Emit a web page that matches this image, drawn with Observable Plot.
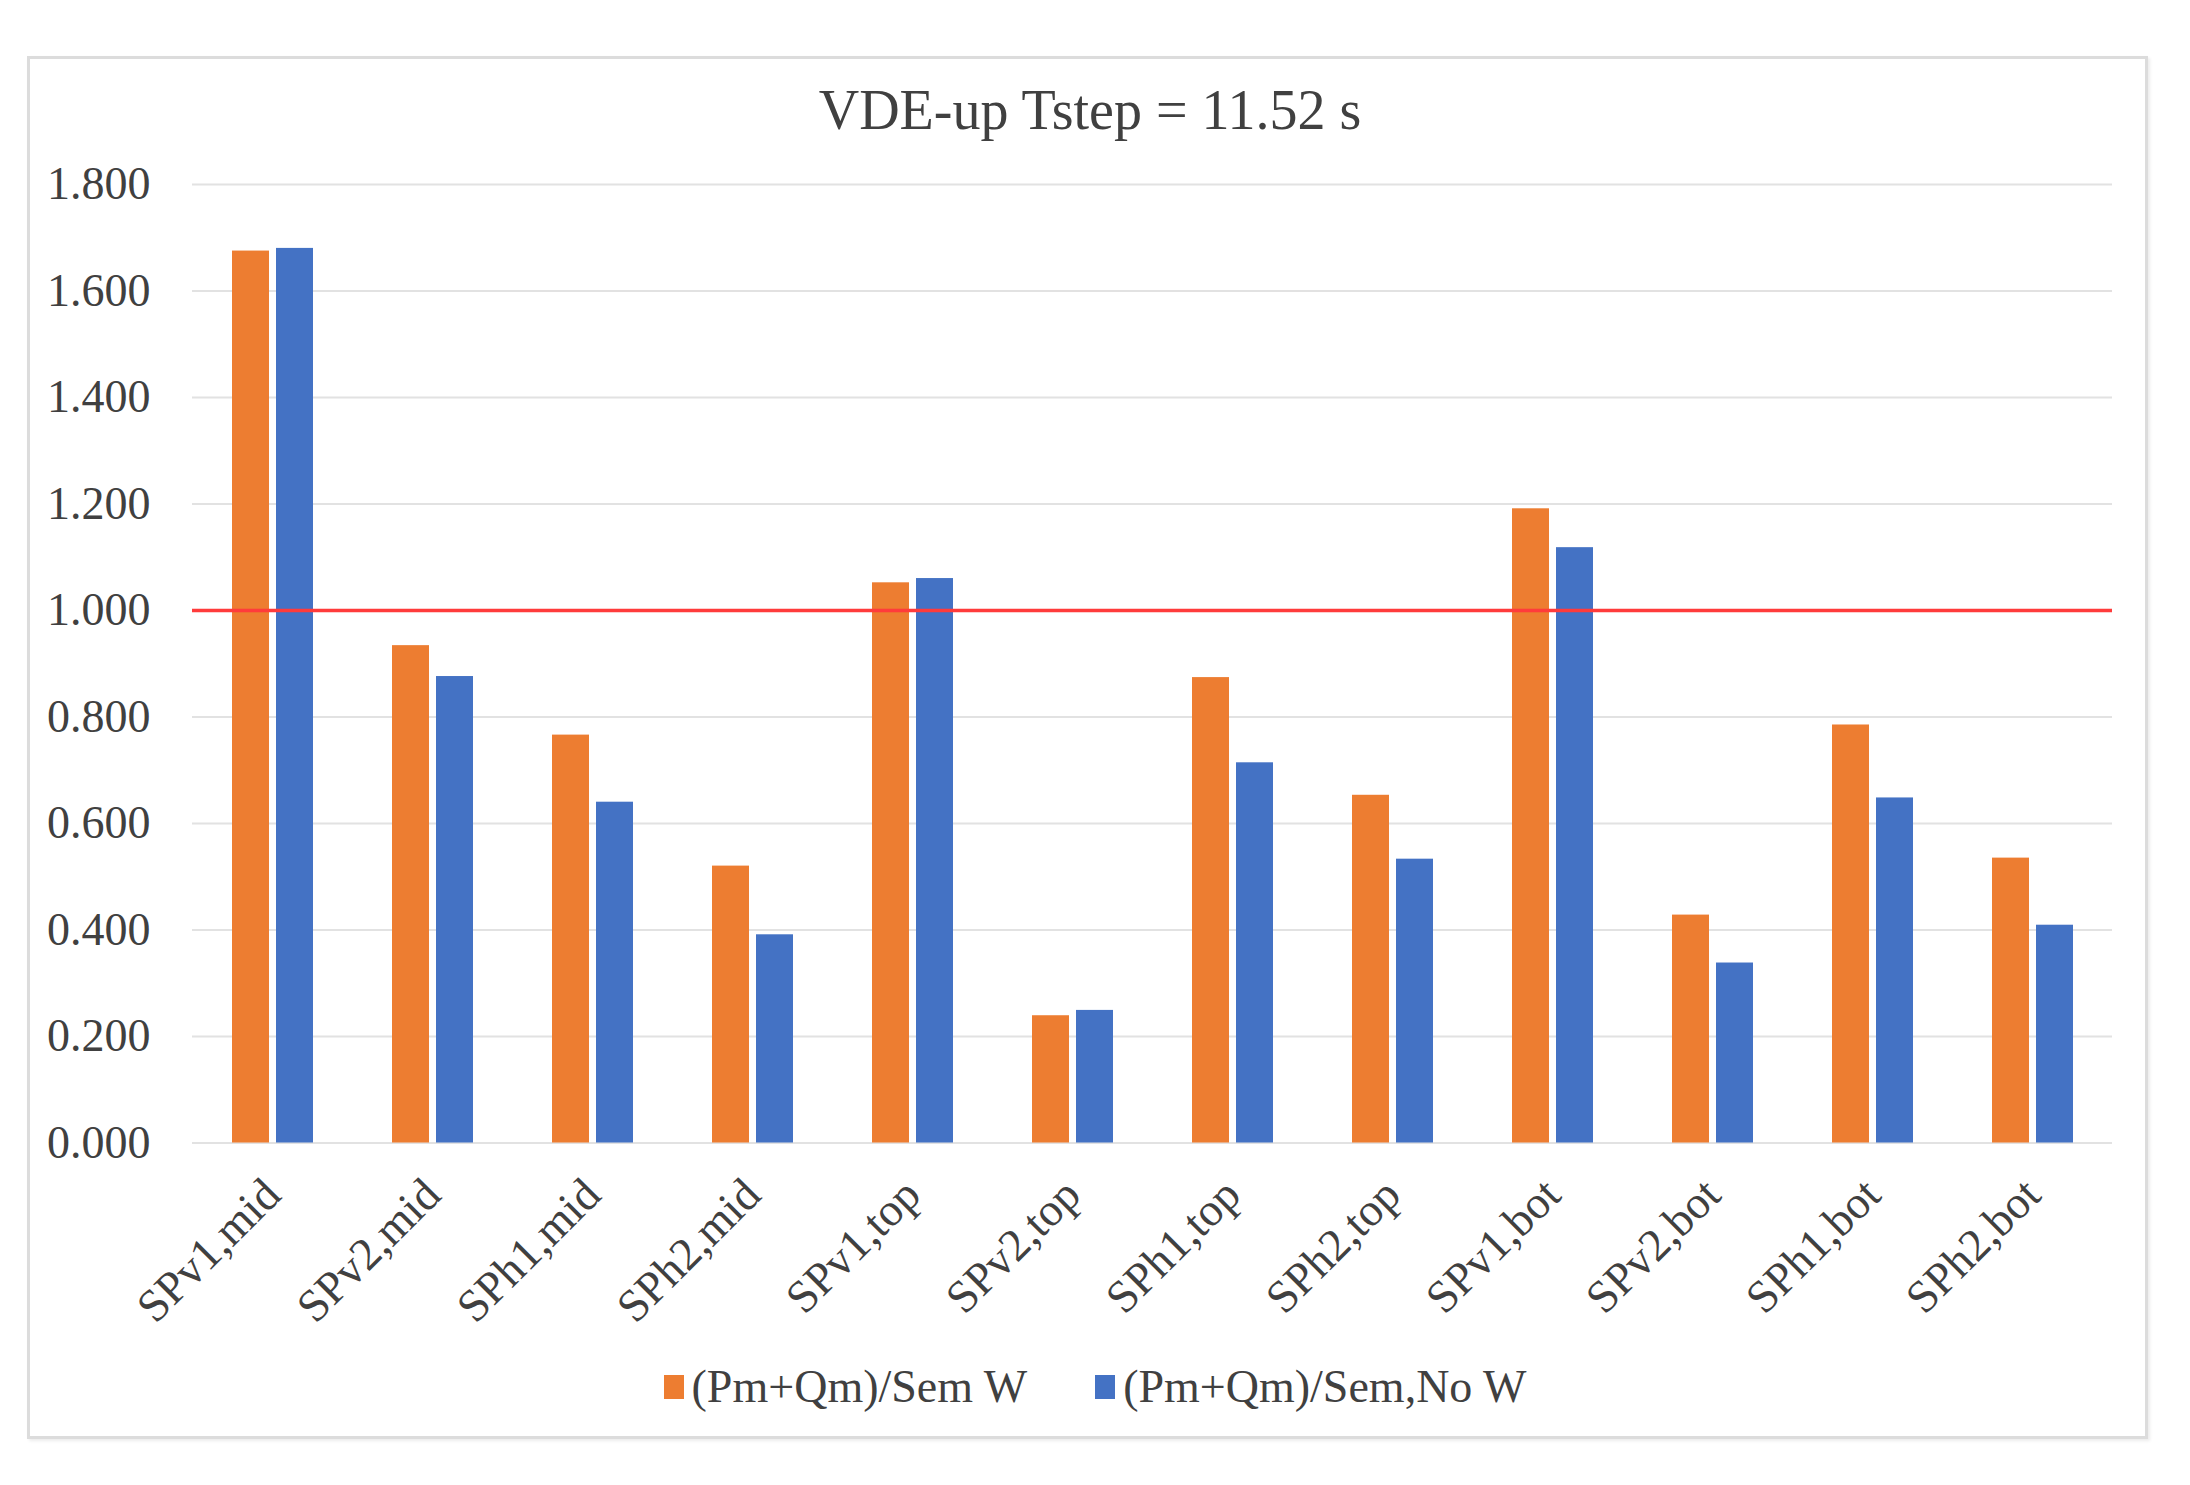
<!DOCTYPE html>
<html>
<head>
<meta charset="utf-8">
<script src="https://cdn.jsdelivr.net/npm/d3@7"></script>
<script src="https://cdn.jsdelivr.net/npm/@observablehq/plot@0.6"></script>
<style>
  html, body { margin: 0; padding: 0; background: #fff; width: 2190px; height: 1485px; overflow: hidden; }
  #frame { position: absolute; left: 27px; top: 56px; width: 2121px; height: 1383px; border: 3px solid #dcdcdc; box-sizing: border-box; box-shadow: 2px 2px 3px rgba(0,0,0,0.08); }
  #title { position: absolute; left: 0; width: 2180px; top: 78px; text-align: center; font-family: "Liberation Serif", serif; font-size: 56px; color: #404040; }
  #chart { position: absolute; left: 0; top: 150px; }
  #legend { position: absolute; left: 0; width: 2190px; top: 1360px; display: flex; justify-content: center; align-items: center; font-family: "Liberation Serif", serif; font-size: 46px; color: #404040; }
  .item { display: flex; align-items: center; margin: 0 34px; }
  .sw { width: 20px; height: 24px; margin-right: 8px; }
</style>
</head>
<body>
<div id="frame"></div>
<div id="title">VDE-up Tstep = 11.52 s</div>
<div id="chart"></div>
<div id="legend"></div>
<script>
const categories = ["SPv1,mid","SPv2,mid","SPh1,mid","SPh2,mid","SPv1,top","SPv2,top","SPh1,top","SPh2,top","SPv1,bot","SPv2,bot","SPh1,bot","SPh2,bot"];
const seriesNames = ["(Pm+Qm)/Sem W", "(Pm+Qm)/Sem,No W"];
const withW = [1.675, 0.934, 0.766, 0.520, 1.052, 0.239, 0.874, 0.653, 1.191, 0.428, 0.785, 0.535];
const noW   = [1.680, 0.876, 0.640, 0.391, 1.060, 0.249, 0.714, 0.533, 1.118, 0.338, 0.648, 0.409];
const yTicks = [0, 0.2, 0.4, 0.6, 0.8, 1.0, 1.2, 1.4, 1.6, 1.8];
const threshold = [1.0];
const seriesColors = ["#ED7D31", "#4472C4"];

const rows = [];
categories.forEach((c, i) => {
  rows.push({cat: c, series: seriesNames[0], value: withW[i]});
  rows.push({cat: c, series: seriesNames[1], value: noW[i]});
});

const chart = Plot.plot({
  width: 2190,
  height: 1200,
  marginLeft: 188,
  marginRight: 74,
  marginTop: 34,
  marginBottom: 207.5,
  style: {fontFamily: "Liberation Serif, serif", fontSize: "46px", color: "#404040", background: "transparent"},
  fx: {domain: categories, padding: 0, axis: "bottom", tickRotate: -45, tickSize: 0, tickPadding: 44, label: null},
  x: {domain: seriesNames, paddingInner: 0.17, paddingOuter: 0.87, axis: null},
  y: {domain: [0, 1.8], ticks: yTicks, tickFormat: d3.format(".3f"), tickSize: 0, tickPadding: 42, label: null},
  color: {domain: seriesNames, range: seriesColors},
  marks: [
    Plot.ruleY(yTicks, {stroke: "#e2e2e2", strokeWidth: 2}),
    Plot.barY(rows, {fx: "cat", x: "series", y: "value", fill: "series"}),
    Plot.ruleY(threshold, {stroke: "#ff3b3b", strokeWidth: 3.5})
  ]
});
document.getElementById("chart").appendChild(chart);

const legend = document.getElementById("legend");
seriesNames.forEach((s, i) => {
  const item = document.createElement("div");
  item.className = "item";
  const sw = document.createElement("div");
  sw.className = "sw";
  sw.style.background = seriesColors[i];
  const t = document.createElement("span");
  t.textContent = s;
  item.appendChild(sw);
  item.appendChild(t);
  legend.appendChild(item);
});
</script>
</body>
</html>
